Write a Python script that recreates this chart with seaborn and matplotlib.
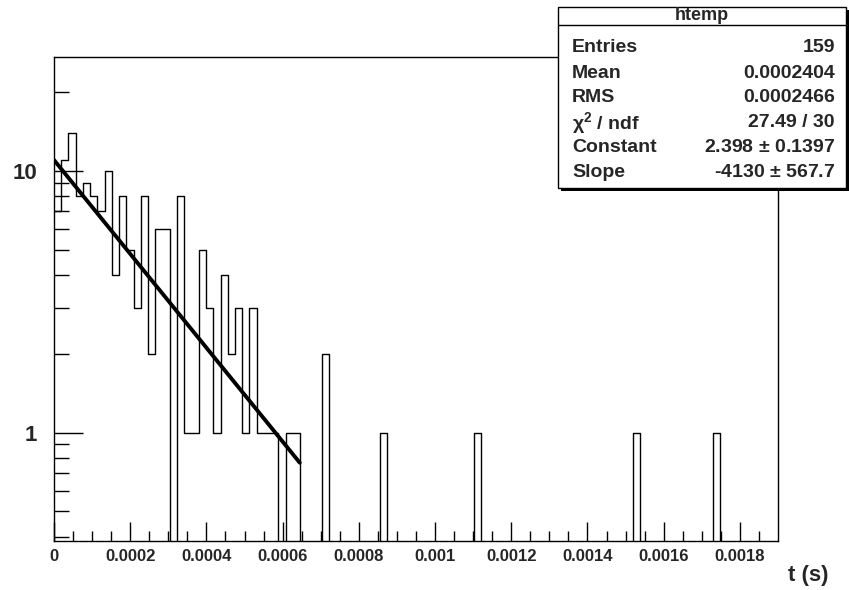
import numpy as np
import pandas as pd
import matplotlib.pyplot as plt
import seaborn as sns
from matplotlib.patches import Rectangle

# ---------------------------
# Histogram data (htemp): 100 bins from 0 to 0.0019 s
# ---------------------------
n_bins = 100
x_max = 0.0019
head_counts = [7, 11, 14, 8, 9, 8, 7, 10, 4, 8,
               5, 3, 8, 2, 6, 6, 0, 8, 1, 1,
               5, 3, 1, 4, 2, 3, 1, 3, 1, 1,
               1, 0, 1, 1, 0, 0, 0, 2]
tail_bins = [45, 58, 80, 91]
tail_counts = [1, 1, 1, 1]

# exponential fit shown in the stats box
fit_const = 2.398
fit_slope = -4130
fit_range = [0.0, 0.000645]

stats_labels = ["Entries", "Mean", "RMS", r"$\chi^2$ / ndf", "Constant", "Slope"]
stats_values = ["159", "0.0002404", "0.0002466", "27.49 / 30",
                "2.398 $\\pm$ 0.1397", "-4130 $\\pm$ 567.7"]

counts = np.zeros(n_bins)
counts[:len(head_counts)] = head_counts
counts[tail_bins] = tail_counts
width = x_max / n_bins
centers = (np.arange(n_bins) + 0.5) * width
hist_df = pd.DataFrame({"t": centers, "n": counts})

sns.set_style("white")
plt.rcParams["font.family"] = ["Liberation Sans", "DejaVu Sans"]
plt.rcParams["font.weight"] = "bold"
plt.rcParams["mathtext.default"] = "regular"

fig = plt.figure(figsize=(8.49, 5.90), dpi=100)
ax = fig.add_axes([54 / 849, 1 - 540.7 / 590, (778 - 54) / 849, (540.7 - 56.7) / 590])

sns.histplot(data=hist_df, x="t", weights="n", binwidth=width, binrange=(0, x_max),
             element="step", fill=False, color="black", linewidth=1.0, ax=ax)

# fit line (straight in log-y)
fx = np.array(fit_range)
fy = np.exp(fit_const + fit_slope * fx)
sns.lineplot(x=fx, y=fy, color="black", linewidth=2.8, ax=ax)

ax.set_yscale("log")
ax.set_xlim(0, x_max)
ax.set_ylim(0.386, 27.3)
for s in ax.spines.values():
    s.set_color("black")
    s.set_linewidth(1.0)

ax.set_xlabel("")
ax.set_ylabel("")
ax.set_xticks(np.arange(0, 0.00181, 0.0002))
ax.set_xticklabels(["0", "0.0002", "0.0004", "0.0006", "0.0008", "0.001",
                    "0.0012", "0.0014", "0.0016", "0.0018"])
ax.set_xticks(np.arange(0, x_max, 0.00005), minor=True)
ax.set_yticks([1, 10])
ax.set_yticklabels(["1", "10"])
ax.set_yticks([0.4, 0.5, 0.6, 0.7, 0.8, 0.9, 2, 3, 4, 5, 6, 7, 8, 9, 20], minor=True)
ax.yaxis.set_minor_formatter(plt.NullFormatter())
ax.tick_params(axis="x", which="major", direction="in", length=14, width=1,
               labelsize=12, pad=6, bottom=True, top=False, color="black")
ax.tick_params(axis="x", which="minor", direction="in", length=7, width=1,
               bottom=True, top=False, color="black")
ax.tick_params(axis="y", which="major", direction="in", length=21, width=1,
               labelsize=16, pad=12, left=True, right=False, color="black")
ax.tick_params(axis="y", which="minor", direction="in", length=11, width=1,
               left=True, right=False, color="black")
for lab in ax.get_xticklabels() + ax.get_yticklabels():
    lab.set_fontweight("bold")

fig.text(808 / 849, 1 - 576 / 590, "t (s)", fontsize=16, fontweight="bold",
         ha="center", va="center")

# ---------------------------
# Stats box
# ---------------------------
bx0, bx1 = 558 / 849, 846 / 849
by0, by1 = 1 - 188 / 590, 1 - 7 / 590
fig.patches.append(Rectangle((bx0 + 3 / 849, by0 - 3 / 590), bx1 - bx0, by1 - by0,
                             transform=fig.transFigure, facecolor="black",
                             edgecolor="none", zorder=4))
fig.patches.append(Rectangle((bx0, by0), bx1 - bx0, by1 - by0,
                             transform=fig.transFigure, facecolor="white",
                             edgecolor="black", linewidth=1.0, zorder=5))
hy = 1 - 25 / 590
fig.add_artist(plt.Line2D([bx0, bx1], [hy, hy], transform=fig.transFigure,
                          color="black", linewidth=1.0, zorder=6))
fig.text((bx0 + bx1) / 2, 1 - 16 / 590, "htemp", fontsize=13, fontweight="bold",
         ha="center", va="center", zorder=7)
row_y = [47, 73, 98, 123, 148, 173]
for lab, val, ry in zip(stats_labels, stats_values, row_y):
    fig.text(572 / 849, 1 - ry / 590, lab, fontsize=14, fontweight="bold",
             ha="left", va="center", zorder=7)
    fig.text(835 / 849, 1 - ry / 590, val, fontsize=14, fontweight="bold",
             ha="right", va="center", zorder=7)

fig.savefig("out.png", dpi=100)
